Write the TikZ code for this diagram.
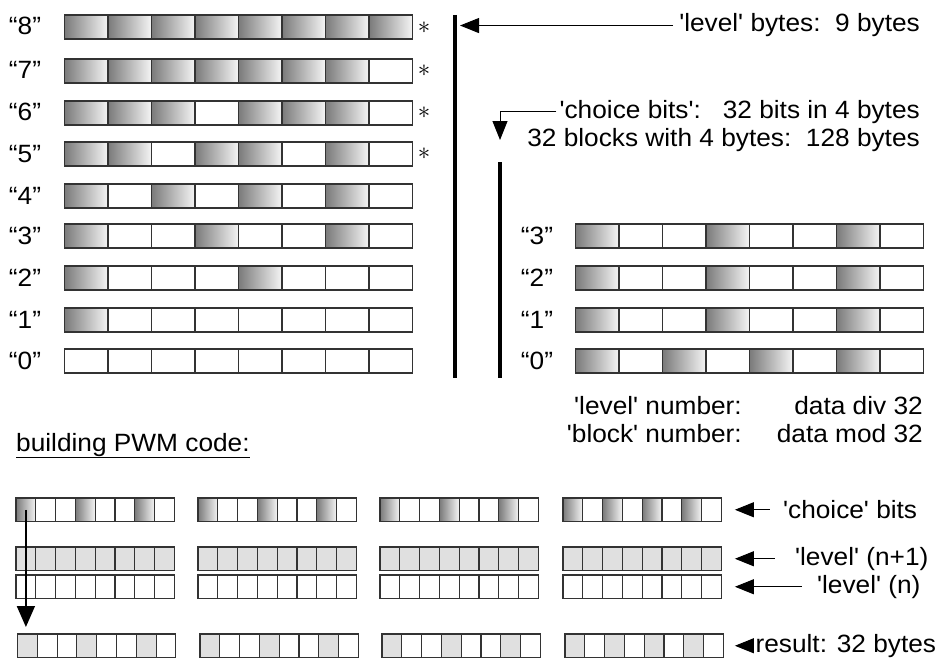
\documentclass[tikz,border=0pt]{standalone}
\usepackage{fontspec}
\newfontfamily\arial{Liberation Sans}[Ligatures=TeXOff,FakeStretch=1.05]
\usetikzlibrary{arrows.meta,positioning}

\tikzset{
  cell/.style={draw=black!80, line width=1.1pt, inner sep=0pt, outer sep=0pt, anchor=north west},
  bit0/.style={cell, fill=white},
  bit1/.style={cell, left color=black!52, right color=black!4},
  bit2/.style={cell, fill=black!12},
  txt/.style={font=\arial\fontsize{25}{30}\selectfont, inner sep=0pt},
  ast/.style={font=\fontsize{24}{26}\selectfont, inner sep=0pt},
  bar/.style={line width=4pt},
  pointer/.style={-{Triangle[length=19pt,width=15pt]}, line width=1pt},
  downarrow/.style={-{Triangle[length=21pt,width=18pt]}, line width=1.6pt},
}

% one row of 8 cells: name, x, y (top), cell width, cell height, pattern
\newcommand{\byterow}[6]{%
  \foreach \c [count=\i] in {#6}
    \node[bit\c, minimum width=#4pt, minimum height=#5pt] (#1-\i) at ({#2+(\i-1)*#4}, #3) {};
}

\begin{document}
\begin{tikzpicture}[x=1pt,y=-1pt]
\useasboundingbox (0,0) rectangle (949,658);

% 'level' bytes
\byterow{L8}{64.5}{15}{43.5}{24}{1,1,1,1,1,1,1,1}
\byterow{L7}{64.5}{59}{43.5}{24}{1,1,1,1,1,1,1,0}
\byterow{L6}{64.5}{101}{43.5}{24}{1,1,1,0,1,1,1,0}
\byterow{L5}{64.5}{142}{43.5}{24}{1,1,0,1,1,0,1,0}
\byterow{L4}{64.5}{184}{43.5}{24}{1,0,1,0,1,0,1,0}
\byterow{L3}{64.5}{224}{43.5}{24}{1,0,0,1,0,0,1,0}
\byterow{L2}{64.5}{266}{43.5}{24}{1,0,0,0,1,0,0,0}
\byterow{L1}{64.5}{308}{43.5}{24}{1,0,0,0,0,0,0,0}
\byterow{L0}{64.5}{349}{43.5}{24}{0,0,0,0,0,0,0,0}

\node[txt, anchor=base] (n8) at (25,35) {“8”};
\node[txt, anchor=base] (n7) at (25,79) {“7”};
\node[txt, anchor=base] (n6) at (25,121) {“6”};
\node[txt, anchor=base] (n5) at (25,162) {“5”};
\node[txt, anchor=base] (n4) at (25,204) {“4”};
\node[txt, anchor=base] (n3) at (25,244) {“3”};
\node[txt, anchor=base] (n2) at (25,286) {“2”};
\node[txt, anchor=base] (n1) at (25,328) {“1”};
\node[txt, anchor=base] (n0) at (25,369) {“0”};

\node[ast] (a8) at (424,28) {$\ast$};
\node[ast] (a7) at (424,71) {$\ast$};
\node[ast] (a6) at (424,113) {$\ast$};
\node[ast] (a5) at (424,154) {$\ast$};

% choice bit blocks
\byterow{R3}{575.5}{224}{43.5}{24}{1,0,0,1,0,0,1,0}
\byterow{R2}{575.5}{266}{43.5}{24}{1,0,0,1,0,0,1,0}
\byterow{R1}{575.5}{308}{43.5}{24}{1,0,0,1,0,0,1,0}
\byterow{R0}{575.5}{349}{43.5}{24}{1,0,1,0,1,0,1,0}

\node[txt, anchor=base] (m3) at (537,244) {“3”};
\node[txt, anchor=base] (m2) at (537,286) {“2”};
\node[txt, anchor=base] (m1) at (537,328) {“1”};
\node[txt, anchor=base] (m0) at (537,369) {“0”};

% bars and headings
\coordinate (barLtop) at (455,15);
\coordinate (barLbot) at (455,378);
\coordinate (barRtop) at (500,162);
\coordinate (barRbot) at (500,378);
\draw[bar] (barLtop) -- (barLbot);
\draw[bar] (barRtop) -- (barRbot);

\node[txt, anchor=base east] (lvlbytes) at (920,32) {'level' bytes:\ \ 9 bytes};
\draw[pointer, shorten <=6pt, shorten >=5pt] (lvlbytes.west) -- (lvlbytes.west -| barLtop);

\node[txt, anchor=base east] (choice) at (920,118) {'choice bits':\ \ \ 32 bits in 4 bytes};
\node[txt, anchor=base east] (blocks) at (920,146) {32 blocks with 4 bytes:\ \ 128 bytes};
\draw[pointer, shorten <=3pt, shorten >=22pt] (choice.west) -| (barRtop);

\node[txt, anchor=base east] (lvlnum) at (742,414) {'level' number:};
\node[txt, anchor=base east] (blknum) at (742,442) {'block' number:};
\node[txt, anchor=base east] (lvldiv) at (923,414) {data div 32};
\node[txt, anchor=base east] (blkmod) at (923,442) {data mod 32};

\node[txt, anchor=base west] (pwm) at (16,451) {\underline{building PWM code:}};

% building PWM code
\byterow{ch0}{16}{498}{19.8}{23.5}{1,0,0,1,0,0,1,0}
\byterow{ch1}{198}{498}{19.8}{23.5}{1,0,0,1,0,0,1,0}
\byterow{ch2}{380}{498}{19.8}{23.5}{1,0,0,1,0,0,1,0}
\byterow{ch3}{563}{498}{19.8}{23.5}{1,0,1,0,1,0,1,0}

\byterow{up0}{16}{547}{19.8}{23.5}{2,2,2,2,2,2,2,2}
\byterow{up1}{198}{547}{19.8}{23.5}{2,2,2,2,2,2,2,2}
\byterow{up2}{380}{547}{19.8}{23.5}{2,2,2,2,2,2,2,2}
\byterow{up3}{563}{547}{19.8}{23.5}{2,2,2,2,2,2,2,2}

\byterow{lo0}{16}{575}{19.8}{23.5}{0,0,0,0,0,0,0,0}
\byterow{lo1}{198}{575}{19.8}{23.5}{0,0,0,0,0,0,0,0}
\byterow{lo2}{380}{575}{19.8}{23.5}{0,0,0,0,0,0,0,0}
\byterow{lo3}{563}{575}{19.8}{23.5}{0,0,0,0,0,0,0,0}

\byterow{res0}{17.5}{634}{19.8}{23.5}{2,0,0,2,0,0,2,0}
\byterow{res1}{200}{634}{19.8}{23.5}{2,0,0,2,0,0,2,0}
\byterow{res2}{382}{634}{19.8}{23.5}{2,0,0,2,0,0,2,0}
\byterow{res3}{565}{634}{19.8}{23.5}{2,0,2,0,2,0,2,0}

\draw[downarrow, shorten >=7pt] (ch0-1.center) -- (ch0-1.center |- res0-1.north);

\node[txt, right=61.5pt of ch3-8] (chlbl) {'choice' bits};
\node[txt, right=73.5pt of up3-8] (uplbl) {'level' (n+1)};
\node[txt, right=95.5pt of lo3-8] (lolbl) {'level' (n)};
\node[txt, right=32pt of res3-8] (reslbl) {result: 32 bytes};
\draw[pointer, shorten <=13pt, shorten >=13.5pt] (chlbl.west) -- (ch3-8.east);
\draw[pointer, shorten <=20pt, shorten >=13.5pt] (uplbl.west) -- (up3-8.east);
\draw[pointer, shorten <=15pt, shorten >=13.5pt] (lolbl.west) -- (lo3-8.east);
\draw[pointer, shorten <=2pt, shorten >=11.5pt] (reslbl.west) -- (res3-8.east);
\end{tikzpicture}
\end{document}
